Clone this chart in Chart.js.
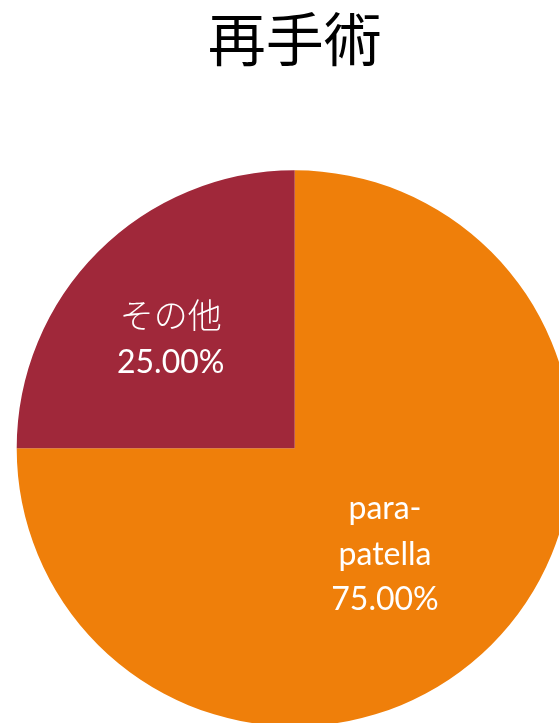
<!DOCTYPE html>
<html>
<head>
<meta charset="utf-8">
<script src="https://cdn.jsdelivr.net/npm/chart.js@4"></script>
<style>
  html, body { margin: 0; padding: 0; background: #ffffff; overflow: hidden; }
  canvas { display: block; }
</style>
</head>
<body>
<canvas id="c" width="559" height="723"></canvas>
<script>
// ---- data ----
const chartTitle = '再手術';
const categories = ['para-patella', 'その他'];
const values = [75, 25];
const sliceColors = ['#EF7F0A', '#A0283A'];

// ---- label plugin (draws category + percentage inside each slice) ----
const sliceLabelPlugin = {
  id: 'sliceLabels',
  afterDatasetsDraw(chart, args, opts) {
    const ctx = chart.ctx;
    const meta = chart.getDatasetMeta(0);
    const data = chart.data.datasets[0].data;
    const total = data.reduce((a, b) => a + b, 0);
    meta.data.forEach((arc, i) => {
      const p = arc.getProps(['x', 'y', 'startAngle', 'endAngle', 'outerRadius'], true);
      const mid = (p.startAngle + p.endAngle) / 2;
      const f = opts.radiusFactor[i];
      const ax = p.x + Math.cos(mid) * p.outerRadius * f + opts.dx;
      const ay = p.y + Math.sin(mid) * p.outerRadius * f + opts.dy;
      const label = chart.data.labels[i];
      let lines = [];
      if (label.indexOf('-') > 0) {
        const k = label.indexOf('-');
        lines.push(label.slice(0, k + 1));
        lines.push(label.slice(k + 1));
      } else {
        lines.push(label);
      }
      lines.push((data[i] / total * 100).toFixed(2) + '%');
      const n = lines.length;
      ctx.save();
      ctx.fillStyle = '#ffffff';
      ctx.textAlign = 'center';
      ctx.textBaseline = 'alphabetic';
      lines.forEach((t, j) => {
        const isCJK = /[\u3040-\u30ff\u4e00-\u9fff]/.test(t);
        ctx.font = isCJK ? '300 34px "Noto Sans CJK JP"' : '32px Lato';
        const y = ay + (j - (n - 1) / 2) * opts.lineGap;
        ctx.fillText(t, ax, y);
      });
      ctx.restore();
    });
  }
};

new Chart(document.getElementById('c'), {
  type: 'pie',
  data: {
    labels: categories,
    datasets: [{
      data: values,
      backgroundColor: sliceColors,
      borderWidth: 0,
      hoverOffset: 0,
      radius: 278
    }]
  },
  options: {
    responsive: false,
    animation: false,
    devicePixelRatio: 1,
    layout: { padding: { left: 30.4, right: 0, top: 0, bottom: 0 } },
    plugins: {
      legend: { display: false },
      tooltip: { enabled: false },
      title: {
        display: true,
        text: chartTitle,
        color: '#000000',
        font: { family: '"Noto Sans CJK JP"', size: 58, weight: 'normal', lineHeight: 1.2 },
        padding: { top: 4.2, bottom: 99.8 }
      },
      sliceLabels: {
        radiusFactor: [0.5, 0.59],
        dx: -8,
        dy: 18,
        lineGap: 45.5
      }
    }
  },
  plugins: [sliceLabelPlugin]
});
</script>
</body>
</html>
